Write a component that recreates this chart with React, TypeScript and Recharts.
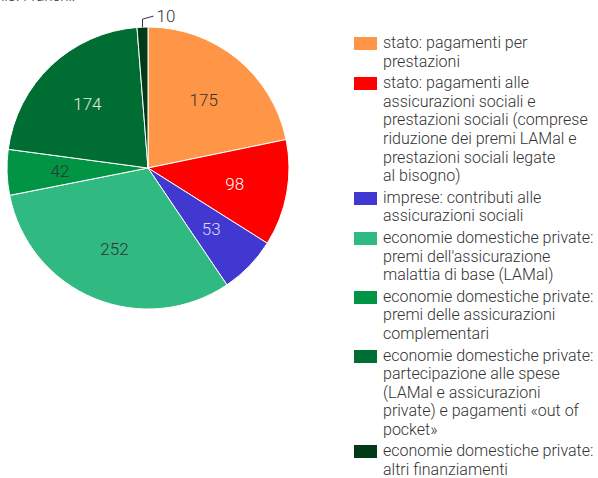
import React from 'react';
import { PieChart, Pie, Cell, Legend } from 'recharts';

const categories = [
    'stato: pagamenti per prestazioni',
    'stato: pagamenti alle assicurazioni sociali e prestazioni sociali (comprese riduzione dei premi LAMal e prestazioni sociali legate al bisogno)',
    'imprese: contributi alle assicurazioni sociali',
    "economie domestiche private: premi dell'assicurazione malattia di base (LAMal)",
    'economie domestiche private: premi delle assicurazioni complementari',
    'economie domestiche private: partecipazione alle spese (LAMal e assicurazioni private) e pagamenti «out of pocket»',
    'economie domestiche private: altri finanziamenti',
];

// how the legend wraps each label in the original
const legendLines = [
    ['stato: pagamenti per', 'prestazioni'],
    ['stato: pagamenti alle', 'assicurazioni sociali e', 'prestazioni sociali (comprese', 'riduzione dei premi LAMal e', 'prestazioni sociali legate', 'al bisogno)'],
    ['imprese: contributi alle', 'assicurazioni sociali'],
    ['economie domestiche private:', "premi dell'assicurazione", 'malattia di base (LAMal)'],
    ['economie domestiche private:', 'premi delle assicurazioni', 'complementari'],
    ['economie domestiche private:', 'partecipazione alle spese', '(LAMal e assicurazioni', 'private) e pagamenti «out of', 'pocket»'],
    ['economie domestiche private:', 'altri finanziamenti'],
];

const values = [175, 98, 53, 252, 42, 174, 10];

const colors = ['#FF9547', '#FF0000', '#4137D1', '#30B981', '#009444', '#006E33', '#003A16'];
const labelColors = ['#333333', '#ffffff', '#dcdcf5', '#333333', '#333333', '#e6e6e6', '#333333'];

const data = categories.map((name, i) => ({ name, value: values[i] }));

const RADIAN = Math.PI / 180;

const renderLabel = (props: any) => {
    const { cx, cy, midAngle, outerRadius, index, value } = props;
    const cos = Math.cos(-midAngle * RADIAN);
    const sin = Math.sin(-midAngle * RADIAN);
    if (index === 6) {
        const sx = cx + outerRadius * cos;
        const sy = cy + outerRadius * sin;
        const my = sy - 8;
        const ex = sx + 11;
        const ey = my - 3;
        return (
            <g>
                <polyline points={`${sx},${sy} ${sx},${my} ${ex},${ey}`} fill="none" stroke="#333" strokeWidth={1} />
                <text x={ex + 3} y={ey} fill="#333" fontSize={17} fontWeight={300} textAnchor="start" dominantBaseline="central">
                    {value}
                </text>
            </g>
        );
    }
    const r = outerRadius * 0.625;
    return (
        <text
            x={cx + r * cos}
            y={cy + r * sin}
            fill={labelColors[index]}
            fontSize={17}
            fontWeight={300}
            textAnchor="middle"
            dominantBaseline="central"
        >
            {value}
        </text>
    );
};

const renderLegend = () => (
    <div style={{ fontFamily: 'Roboto, sans-serif', fontSize: 16, fontWeight: 300, color: '#333', lineHeight: '18.6px' }}>
        {legendLines.map((lines, i) => (
            <div key={i} style={{ display: 'flex', marginBottom: 3 }}>
                <div style={{ width: 23, height: 13, background: colors[i], marginTop: 3, marginRight: 6, flexShrink: 0 }} />
                <div>
                    {lines.map((l, j) => (
                        <div key={j} style={{ whiteSpace: 'nowrap' }}>{l}</div>
                    ))}
                </div>
            </div>
        ))}
    </div>
);

export default function App() {
    return (
        <div style={{ position: 'absolute', left: 0, top: 0, width: 598, height: 478, overflow: 'hidden', background: '#fff', fontFamily: 'Roboto, sans-serif' }}>
            <div style={{ position: 'absolute', left: -25, top: -11, fontSize: 15, fontWeight: 300, lineHeight: '15px', color: '#333', whiteSpace: 'nowrap' }}>
                In mio. Franchi.
            </div>
            <PieChart width={598} height={478} margin={{ top: 0, right: 0, bottom: 0, left: 0 }}>
                <Pie
                    data={data}
                    dataKey="value"
                    nameKey="name"
                    cx={148}
                    cy={168}
                    outerRadius={141}
                    startAngle={90}
                    endAngle={-270}
                    stroke="#ffffff"
                    strokeWidth={1}
                    label={renderLabel}
                    labelLine={false}
                    isAnimationActive={false}
                >
                    {data.map((entry, index) => (
                        <Cell key={`cell-${index}`} fill={colors[index]} />
                    ))}
                </Pie>
                <Legend
                    layout="vertical"
                    content={renderLegend}
                    wrapperStyle={{ left: 354, top: 34, width: 244 }}
                />
            </PieChart>
        </div>
    );
}
